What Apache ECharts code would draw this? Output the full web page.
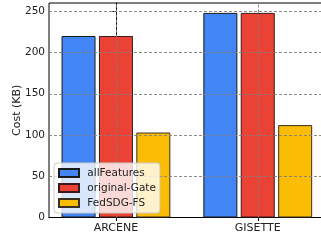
<!DOCTYPE html>
<html>
<head>
<meta charset="utf-8">
<script src="https://cdn.jsdelivr.net/npm/echarts@6/dist/echarts.min.js"></script>
<style>
html, body { margin: 0; padding: 0; background: #fff; }
#main { width: 321px; height: 242px; }
</style>
</head>
<body>
<div id="main"></div>
<script>
var categories = ['ARCENE', 'GISETTE'];
var catPos = [0, 1];
var allFeatures = [220, 248];
var originalGate = [220, 248];
var fedSDG = [103, 112];
var yGrid = [50, 100, 150, 200, 250];

var chart = echarts.init(document.getElementById('main'));

function pairs(vals) {
    return vals.map(function (v, i) { return [catPos[i], v]; });
}

var gridLines = yGrid.map(function (v) { return { yAxis: v }; })
    .concat(catPos.map(function (v) { return { xAxis: v }; }));

var option = {
    animation: false,
    textStyle: { fontFamily: 'DejaVu Sans' },
    grid: {
        left: 49, top: 3, bottom: 24.5, right: -2,
        outerBoundsMode: 'none',
        containLabel: false,
        show: true, borderColor: '#000', borderWidth: 1
    },
    legend: {
        orient: 'vertical',
        left: 54, top: 163,
        zlevel: 2,
        itemWidth: 20, itemHeight: 8, itemGap: 3,
        padding: [4, 4, 4, 4],
        backgroundColor: 'rgba(255,255,255,0.8)',
        borderColor: '#ccc', borderWidth: 1, borderRadius: 3,
        icon: 'rect',
        textStyle: { fontSize: 10.5, color: '#222', lineHeight: 12 },
        formatter: function (name) { return ' ' + name; },
        data: ['allFeatures', 'original-Gate', 'FedSDG-FS']
    },
    xAxis: {
        type: 'value',
        min: -0.472, max: 1.46,
        splitLine: { show: false },
        axisLine: { lineStyle: { color: '#000' } },
        axisTick: { customValues: catPos, length: 3.5, lineStyle: { color: '#000' } },
        axisLabel: {
            customValues: catPos,
            fontSize: 11, color: '#222', margin: 5,
            formatter: function (v) { return categories[Math.round(v)]; }
        }
    },
    yAxis: {
        type: 'value',
        min: 0, max: 260, interval: 50,
        name: 'Cost (KB)', nameLocation: 'middle', nameGap: 26,
        nameMoveOverlap: false,
        nameTextStyle: { fontSize: 11, color: '#222' },
        splitLine: { show: false },
        axisLine: { show: true, lineStyle: { color: '#000' } },
        axisTick: { show: true, length: 3.5, lineStyle: { color: '#000' } },
        axisLabel: { fontSize: 10.5, color: '#222', margin: 4 }
    },
    series: [
        {
            name: 'allFeatures', type: 'bar', barWidth: 34, barGap: '10%',
            itemStyle: { color: '#4285F4', borderColor: '#1a1a1a', borderWidth: 1 },
            data: pairs(allFeatures)
        },
        {
            name: 'original-Gate', type: 'bar', barWidth: 34, barGap: '10%',
            itemStyle: { color: '#EA4335', borderColor: '#3a1a1a', borderWidth: 1 },
            data: pairs(originalGate)
        },
        {
            name: 'FedSDG-FS', type: 'bar', barWidth: 34, barGap: '10%',
            itemStyle: { color: '#FBBC05', borderColor: '#3a3020', borderWidth: 1 },
            data: pairs(fedSDG)
        },
        {
            name: 'grid', type: 'line', data: [], zlevel: 1,
            markLine: {
                silent: true, zlevel: 1, z: 10,
                symbol: 'none',
                label: { show: false },
                lineStyle: { type: [3, 2], color: '#808080', width: 1, opacity: 0.9 },
                data: gridLines
            }
        }
    ]
};
chart.setOption(option);
</script>
</body>
</html>
